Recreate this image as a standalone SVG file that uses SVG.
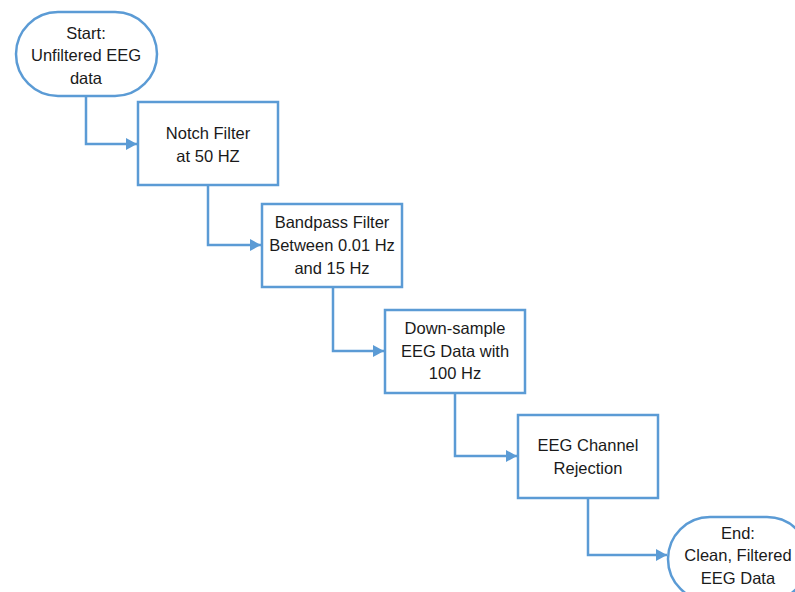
<svg xmlns="http://www.w3.org/2000/svg" width="795" height="592" viewBox="0 0 795 592">
<defs>
<style>
.n{fill:#fff;stroke:#5B9BD5;stroke-width:2.5}
.c{fill:none;stroke:#5B9BD5;stroke-width:2.5}
text{font-family:"Liberation Sans",Arial,sans-serif;font-size:16.5px;fill:#1a1a1a;text-anchor:middle}
</style>
<marker id="ah" viewBox="0 0 10 10" refX="10" refY="5" markerWidth="11" markerHeight="12" markerUnits="userSpaceOnUse" orient="auto" preserveAspectRatio="none">
<path d="M0,0 L10,5 L0,10 Z" fill="#5B9BD5"/>
</marker>
</defs>
<rect width="795" height="592" fill="#fff"/>
<g id="connectors">
<path class="c" d="M86,96 V144 H137" marker-end="url(#ah)"/>
<path class="c" d="M208,185 V245 H261" marker-end="url(#ah)"/>
<path class="c" d="M333,287 V351 H384" marker-end="url(#ah)"/>
<path class="c" d="M455,393 V456 H517" marker-end="url(#ah)"/>
<path class="c" d="M588,498 V555 H667" marker-end="url(#ah)"/>
</g>
<g id="start">
<rect class="n" x="16" y="12" width="141" height="84" rx="42" ry="42"/>
<text x="86" y="39">Start:</text>
<text x="86" y="61">Unfiltered EEG</text>
<text x="86" y="84">data</text>
</g>
<g id="notch">
<rect class="n" x="138" y="102" width="140" height="83"/>
<text x="208" y="139">Notch Filter</text>
<text x="208" y="162">at 50 HZ</text>
</g>
<g id="bandpass">
<rect class="n" x="262" y="204" width="140" height="83"/>
<text x="332" y="228">Bandpass Filter</text>
<text x="332" y="251">Between 0.01 Hz</text>
<text x="332" y="274">and 15 Hz</text>
</g>
<g id="downsample">
<rect class="n" x="385" y="310" width="140" height="83"/>
<text x="455" y="334">Down-sample</text>
<text x="455" y="357">EEG Data with</text>
<text x="455" y="379">100 Hz</text>
</g>
<g id="rejection">
<rect class="n" x="518" y="415" width="140" height="83"/>
<text x="588" y="451">EEG Channel</text>
<text x="588" y="474">Rejection</text>
</g>
<g id="end">
<rect class="n" x="668" y="517" width="141" height="84" rx="42" ry="42"/>
<text x="738" y="539">End:</text>
<text x="738" y="561">Clean, Filtered</text>
<text x="738" y="584">EEG Data</text>
</g>
</svg>
